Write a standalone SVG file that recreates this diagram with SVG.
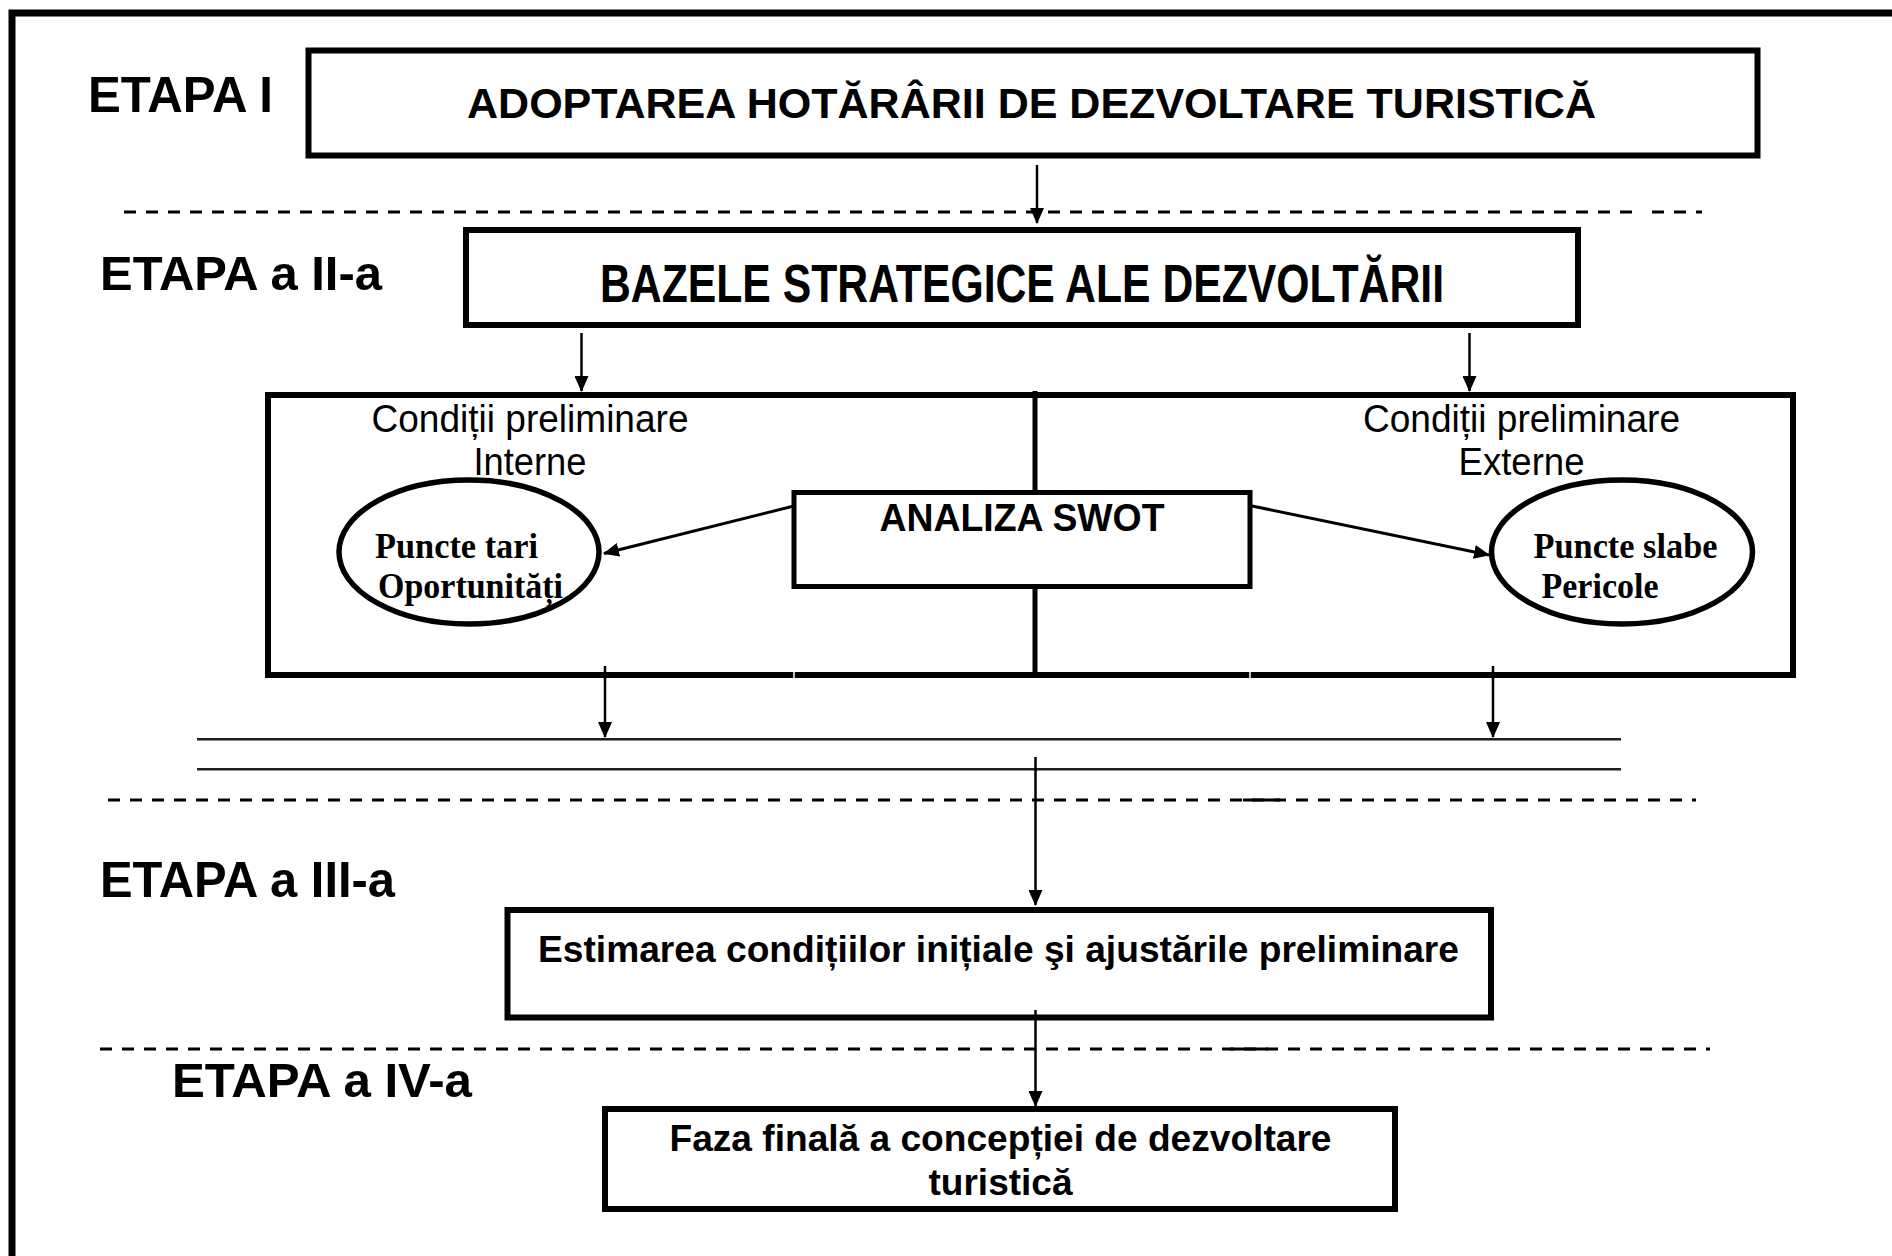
<svg xmlns="http://www.w3.org/2000/svg" width="1892" height="1256" viewBox="0 0 1892 1256">
<style>
.box{fill:#fff;stroke:#000;stroke-width:6}
.thin{fill:#fff;stroke:#000;stroke-width:5}
.ell{fill:#fff;stroke:#000;stroke-width:5.5}
.hb{font-family:"Liberation Sans",Arial,sans-serif;font-weight:bold;fill:#000}
.hr{font-family:"Liberation Sans",Arial,sans-serif;font-weight:normal;fill:#000}
.tb{font-family:"Liberation Serif","Times New Roman",serif;font-weight:bold;fill:#000}
.dash{stroke:#000;stroke-width:2.8;stroke-dasharray:12 10;fill:none}
.dbl{stroke:#1e1e1e;stroke-width:2.6;fill:none}
.arr{stroke:#000;stroke-width:2.5;fill:none;marker-end:url(#ah)}
.arr2{stroke:#000;stroke-width:3;fill:none;marker-end:url(#ah)}
</style>
<defs>
<marker id="ah" markerUnits="userSpaceOnUse" markerWidth="16" markerHeight="14" viewBox="0 0 16 14" refX="15" refY="7" orient="auto">
<path d="M0,0 L16,7 L0,14 z" fill="#000"/>
</marker>
</defs>
<rect width="1892" height="1256" fill="#fff"/>
<g id="frame">
<path d="M12,1256 V13 H1892" fill="none" stroke="#000" stroke-width="7"/>
</g>
<g id="separators">
<line class="dash" x1="124" y1="212" x2="1641" y2="212"/>
<line class="dash" x1="1652" y1="212" x2="1702" y2="212"/>
<line class="dbl" x1="197" y1="739.3" x2="1621" y2="739.3"/>
<line class="dbl" x1="197" y1="769.3" x2="1621" y2="769.3"/>
<line class="dash" x1="108" y1="800" x2="1696" y2="800"/>
<line x1="1243" y1="800" x2="1280" y2="800" stroke="#000" stroke-width="2.8"/>
<line class="dash" x1="100" y1="1049" x2="1710" y2="1049"/>
<line x1="1230" y1="1049" x2="1268" y2="1049" stroke="#000" stroke-width="2.8"/>
</g>
<g id="labels">
<text class="hb" x="88" y="111.5" font-size="50" textLength="185" lengthAdjust="spacingAndGlyphs">ETAPA I</text>
<text class="hb" x="100" y="290" font-size="49" textLength="282" lengthAdjust="spacingAndGlyphs">ETAPA a II-a</text>
<text class="hb" x="100" y="897" font-size="50" textLength="295" lengthAdjust="spacingAndGlyphs">ETAPA a III-a</text>
<text class="hb" x="172" y="1097" font-size="49" textLength="300" lengthAdjust="spacingAndGlyphs">ETAPA a IV-a</text>
</g>
<g id="box1">
<rect class="box" x="308.5" y="50.5" width="1449" height="105"/>
<text class="hb" x="1031.5" y="117.5" font-size="42.5" text-anchor="middle" textLength="1129" lengthAdjust="spacingAndGlyphs">ADOPTAREA HOTĂRÂRII DE DEZVOLTARE TURISTICĂ</text>
</g>
<g id="box2">
<rect class="box" x="466" y="230" width="1112" height="95"/>
<text class="hb" x="1022" y="301.5" font-size="53" text-anchor="middle" textLength="844" lengthAdjust="spacingAndGlyphs">BAZELE STRATEGICE ALE DEZVOLTĂRII</text>
</g>
<g id="container">
<rect class="box" x="268" y="395" width="1525" height="280" fill="none"/>
<line x1="1035" y1="391" x2="1035" y2="675" stroke="#000" stroke-width="5"/>
<line x1="794" y1="671" x2="794" y2="679" stroke="#fff" stroke-width="1.5"/>
<line x1="1250" y1="671" x2="1250" y2="679" stroke="#fff" stroke-width="1.5"/>
<text class="hr" x="530" y="432" font-size="38" text-anchor="middle" textLength="317" lengthAdjust="spacingAndGlyphs">Condiții preliminare</text>
<text class="hr" x="530" y="475" font-size="38" text-anchor="middle" textLength="113" lengthAdjust="spacingAndGlyphs">Interne</text>
<text class="hr" x="1521.5" y="432" font-size="38" text-anchor="middle" textLength="317" lengthAdjust="spacingAndGlyphs">Condiții preliminare</text>
<text class="hr" x="1521.5" y="475" font-size="38" text-anchor="middle" textLength="126" lengthAdjust="spacingAndGlyphs">Externe</text>
</g>
<g id="swot">
<rect class="thin" x="794" y="492.5" width="456" height="94"/>
<text class="hb" x="1022" y="531" font-size="38" text-anchor="middle" textLength="285" lengthAdjust="spacingAndGlyphs">ANALIZA SWOT</text>
</g>
<g id="strengths">
<ellipse class="ell" cx="469" cy="552" rx="130" ry="72"/>
<text class="tb" x="375" y="558" font-size="36" textLength="163" lengthAdjust="spacingAndGlyphs">Puncte tari</text>
<text class="tb" x="378" y="597.5" font-size="36" textLength="185" lengthAdjust="spacingAndGlyphs">Oportunități</text>
</g>
<g id="weaknesses">
<ellipse class="ell" cx="1622" cy="552" rx="130.5" ry="72"/>
<text class="tb" x="1533.5" y="558" font-size="36" textLength="184" lengthAdjust="spacingAndGlyphs">Puncte slabe</text>
<text class="tb" x="1541.5" y="598" font-size="36" textLength="117" lengthAdjust="spacingAndGlyphs">Pericole</text>
</g>
<g id="box3">
<rect class="box" x="507.5" y="910" width="983.5" height="107.5"/>
<text class="hb" x="998.5" y="961.5" font-size="37" text-anchor="middle" textLength="921" lengthAdjust="spacingAndGlyphs">Estimarea condițiilor inițiale şi ajustările preliminare</text>
</g>
<g id="box4">
<rect class="box" x="605" y="1109" width="790" height="100"/>
<text class="hb" x="1000.5" y="1150.5" font-size="37" text-anchor="middle" textLength="662" lengthAdjust="spacingAndGlyphs">Faza finală a concepției de dezvoltare</text>
<text class="hb" x="1000.5" y="1194.5" font-size="37" text-anchor="middle" textLength="144" lengthAdjust="spacingAndGlyphs">turistică</text>
</g>
<g id="connectors">
<line class="arr" x1="1037" y1="165" x2="1037" y2="223"/>
<line class="arr" x1="581.5" y1="333" x2="581.5" y2="391"/>
<line class="arr" x1="1469.5" y1="333" x2="1469.5" y2="391"/>
<line class="arr2" x1="794" y1="506" x2="604" y2="553.5"/>
<line class="arr2" x1="1252" y1="506" x2="1489" y2="555"/>
<line class="arr" x1="605" y1="666" x2="605" y2="737"/>
<line class="arr" x1="1493" y1="666" x2="1493" y2="737"/>
<line class="arr" x1="1035.5" y1="757" x2="1035.5" y2="905"/>
<line class="arr" x1="1035.5" y1="1010" x2="1035.5" y2="1106"/>
</g>
</svg>
